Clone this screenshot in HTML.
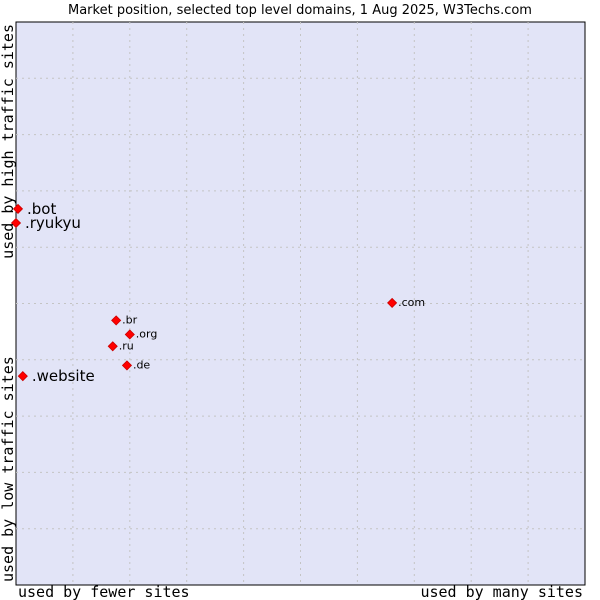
<!DOCTYPE html>
<html><head><meta charset="utf-8"><style>
body{margin:0;background:#fff;width:600px;height:600px;overflow:hidden}
svg{display:block}
</style></head><body>
<svg id="chart" width="600" height="600" xmlns="http://www.w3.org/2000/svg">
<text x="300" y="14" text-anchor="middle" font-family="DejaVu Sans, sans-serif" font-size="13" fill="#000">Market position, selected top level domains, 1 Aug 2025, W3Techs.com</text>
<rect x="16" y="22" width="569" height="563" fill="#e2e4f7" stroke="#000" stroke-width="1"/>
<g id="grid"></g>
<g id="points"></g>
<text x="18" y="597" font-family="DejaVu Sans Mono, monospace" font-size="15">used by fewer sites</text>
<text x="583" y="597" text-anchor="end" font-family="DejaVu Sans Mono, monospace" font-size="15">used by many sites</text>
<text transform="translate(13,24) rotate(-90)" text-anchor="end" font-family="DejaVu Sans Mono, monospace" font-size="15">used by high traffic sites</text>
<text transform="translate(13,582) rotate(-90)" font-family="DejaVu Sans Mono, monospace" font-size="15">used by low traffic sites</text>
</svg>
<script>
const domains = [".com", ".br", ".org", ".ru", ".de", ".website", ".bot", ".ryukyu"];
const siteShare = [66.1, 17.6, 20.0, 17.0, 19.5, 1.2, 0.35, 0.0];
const trafficScore = [50.1, 47.0, 44.5, 42.4, 39.0, 37.1, 66.8, 64.3];
const highlighted = [false, false, false, false, false, true, true, true];
const gridTicks = [10, 20, 30, 40, 50, 60, 70, 80, 90];

const X0 = 16, X1 = 585, Y0 = 585, Y1 = 22;
const xs = v => X0 + (X1 - X0) * v / 100;
const ys = v => Y0 - (Y0 - Y1) * v / 100;
const NS = "http://www.w3.org/2000/svg";
const grid = document.getElementById("grid");
gridTicks.forEach(t => {
  const v = document.createElementNS(NS, "line");
  
  
  v.setAttribute("x1", xs(t)); v.setAttribute("x2", xs(t));
  v.setAttribute("y1", Y1); v.setAttribute("y2", Y0);
  v.setAttribute("stroke", "#c4c4c4"); v.setAttribute("stroke-dasharray", "2,4");
  grid.appendChild(v);
  const h = document.createElementNS(NS, "line");
  
  
  h.setAttribute("y1", ys(t)); h.setAttribute("y2", ys(t));
  h.setAttribute("x1", X0); h.setAttribute("x2", X1);
  h.setAttribute("stroke", "#c4c4c4"); h.setAttribute("stroke-dasharray", "2,4");
  grid.appendChild(h);
});
const pts = document.getElementById("points");
domains.forEach((d, i) => {
  const x = xs(siteShare[i]), y = ys(trafficScore[i]);
  const m = document.createElementNS(NS, "polygon");
  
  
  m.setAttribute("points", `${x},${y-4.5} ${x+4.5},${y} ${x},${y+4.5} ${x-4.5},${y}`);
  m.setAttribute("fill", "#f00"); m.setAttribute("stroke", "#c00"); m.setAttribute("stroke-width", "0.8");
  pts.appendChild(m);
  const t = document.createElementNS(NS, "text");
  
  
  const big = highlighted[i];
  t.setAttribute("x", x + (big ? 9 : 6));
  t.setAttribute("y", y + (big ? 5 : 3));
  t.setAttribute("font-family", "DejaVu Sans, sans-serif");
  t.setAttribute("font-size", big ? 15 : 11);
  t.textContent = d;
  pts.appendChild(t);
});
</script>
</body></html>
